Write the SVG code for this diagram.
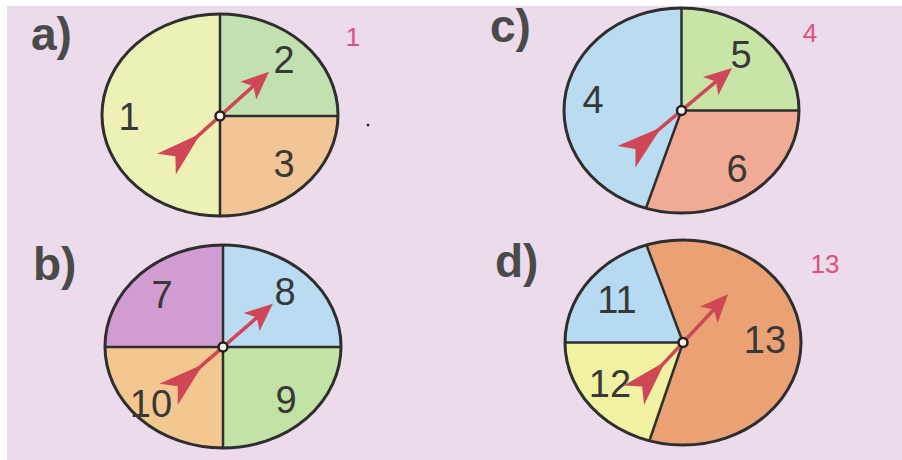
<svg xmlns="http://www.w3.org/2000/svg" xmlns:xlink="http://www.w3.org/1999/xlink" width="902" height="460" viewBox="0 0 902 460">
<style>
.rim{fill:none;stroke:#2e2e2e;stroke-width:3}
.div{fill:none;stroke:#2e2e2e;stroke-width:2.5}
.num{font-family:"Liberation Sans",Arial,sans-serif;font-size:38px;fill:#383838;text-anchor:middle}
.tag{font-family:"Liberation Sans",Arial,sans-serif;font-size:46px;font-weight:bold;fill:#4a4a4a}
.ans{font-family:"Liberation Sans",Arial,sans-serif;font-size:26px;fill:#e0507e;text-anchor:middle}
.hub{fill:#f5f1e4;stroke:#222;stroke-width:2.5}
</style>
<defs>
<g id="arrow">
<line x1="-36" y1="0" x2="50" y2="0" stroke="#cf4656" stroke-width="3.5"/>
<polygon points="66,0 38,-12 45,0 38,12" fill="#cf4656"/>
<polygon points="-26,0 -72,-14 -60,0 -72,14" fill="#cf4656"/>
</g>
</defs>
<rect width="902" height="460" fill="#ffffff"/>
<rect x="7" y="6" width="895" height="454" fill="#ebdbeb"/>

<g id="spinner-a">
<path d="M220,14 A118,101 0 0 0 220,216 Z" fill="#eef1b6"/>
<path d="M220,116 L220,14 A118,101 0 0 1 338,116 Z" fill="#c1e1b1"/>
<path d="M220,116 L338,116 A118,101 0 0 1 220,216 Z" fill="#f1c595"/>
<line class="div" x1="220" y1="14" x2="220" y2="216"/>
<line class="div" x1="220" y1="116" x2="338" y2="116"/>
<ellipse class="rim" cx="220" cy="115" rx="118" ry="101"/>
<text class="num" x="129" y="130">1</text>
<text class="num" x="284" y="73">2</text>
<text class="num" x="284" y="177">3</text>
<use xlink:href="#arrow" transform="translate(220,116) rotate(-42)"/>
<circle class="hub" cx="220" cy="116" r="4.5"/>
<text class="tag" x="31" y="50">a)</text>
<text class="ans" x="353" y="46">1</text>
<circle cx="368" cy="125" r="1.5" fill="#333"/>
</g>

<g id="spinner-c">
<path d="M681.5,110.5 L681.5,8 A117.5,102.5 0 0 0 646,208 Z" fill="#b9dcf1"/>
<path d="M681.5,110.5 L681.5,8 A117.5,102.5 0 0 1 799,110.5 Z" fill="#c8e5a7"/>
<path d="M681.5,110.5 L799,110.5 A117.5,102.5 0 0 1 646,208 Z" fill="#f1ab95"/>
<line class="div" x1="681.5" y1="8" x2="681.5" y2="110.5"/>
<line class="div" x1="681.5" y1="110.5" x2="799" y2="110.5"/>
<line class="div" x1="681.5" y1="110.5" x2="646" y2="208"/>
<ellipse class="rim" cx="681.5" cy="110.5" rx="117.5" ry="102.5"/>
<text class="num" x="593" y="113">4</text>
<text class="num" x="741" y="68">5</text>
<text class="num" x="737" y="182">6</text>
<use xlink:href="#arrow" transform="translate(681.5,110.5) rotate(-40)"/>
<circle class="hub" cx="681.5" cy="110.5" r="4.5"/>
<text class="tag" x="490" y="42">c)</text>
<text class="ans" x="810" y="42">4</text>
</g>

<g id="spinner-b">
<path d="M223,347 L105,347 A118,101.5 0 0 1 223,245 Z" fill="#d19cd1"/>
<path d="M223,347 L223,245 A118,101.5 0 0 1 341,347 Z" fill="#b9dcf3"/>
<path d="M223,347 L341,347 A118,101.5 0 0 1 223,448 Z" fill="#c3e2a5"/>
<path d="M223,347 L223,448 A118,101.5 0 0 1 105,347 Z" fill="#f3c790"/>
<line class="div" x1="223" y1="245" x2="223" y2="448"/>
<line class="div" x1="105" y1="347" x2="341" y2="347"/>
<ellipse class="rim" cx="223" cy="346.5" rx="118" ry="101.5"/>
<text class="num" x="162" y="308">7</text>
<text class="num" x="285" y="305">8</text>
<text class="num" x="286" y="413">9</text>
<text class="num" x="151" y="417">10</text>
<use xlink:href="#arrow" transform="translate(223,347) rotate(-41)"/>
<circle class="hub" cx="223" cy="347" r="4.5"/>
<text class="tag" x="33" y="280">b)</text>
</g>

<g id="spinner-d">
<path d="M683,342.5 L565,342.5 A118,102.5 0 0 1 646.5,245 Z" fill="#b5daf1"/>
<path d="M683,342.5 L649.5,440.5 A118,102.5 0 0 1 565,342.5 Z" fill="#f1f1a2"/>
<path d="M683,342.5 L646.5,245 A118,102.5 0 1 1 649.5,440.5 Z" fill="#eaa274"/>
<line class="div" x1="565" y1="342.5" x2="683" y2="342.5"/>
<line class="div" x1="683" y1="342.5" x2="646.5" y2="245"/>
<line class="div" x1="683" y1="342.5" x2="649.5" y2="440.5"/>
<ellipse class="rim" cx="683" cy="342.5" rx="118" ry="102.5"/>
<text class="num" x="617" y="313">11</text>
<text class="num" x="610" y="397">12</text>
<text class="num" x="765" y="353">13</text>
<use xlink:href="#arrow" transform="translate(683,342.5) rotate(-47)"/>
<circle class="hub" cx="683" cy="342.5" r="4.5"/>
<text class="tag" x="495" y="277">d)</text>
<text class="ans" x="825" y="273">13</text>
</g>
</svg>
